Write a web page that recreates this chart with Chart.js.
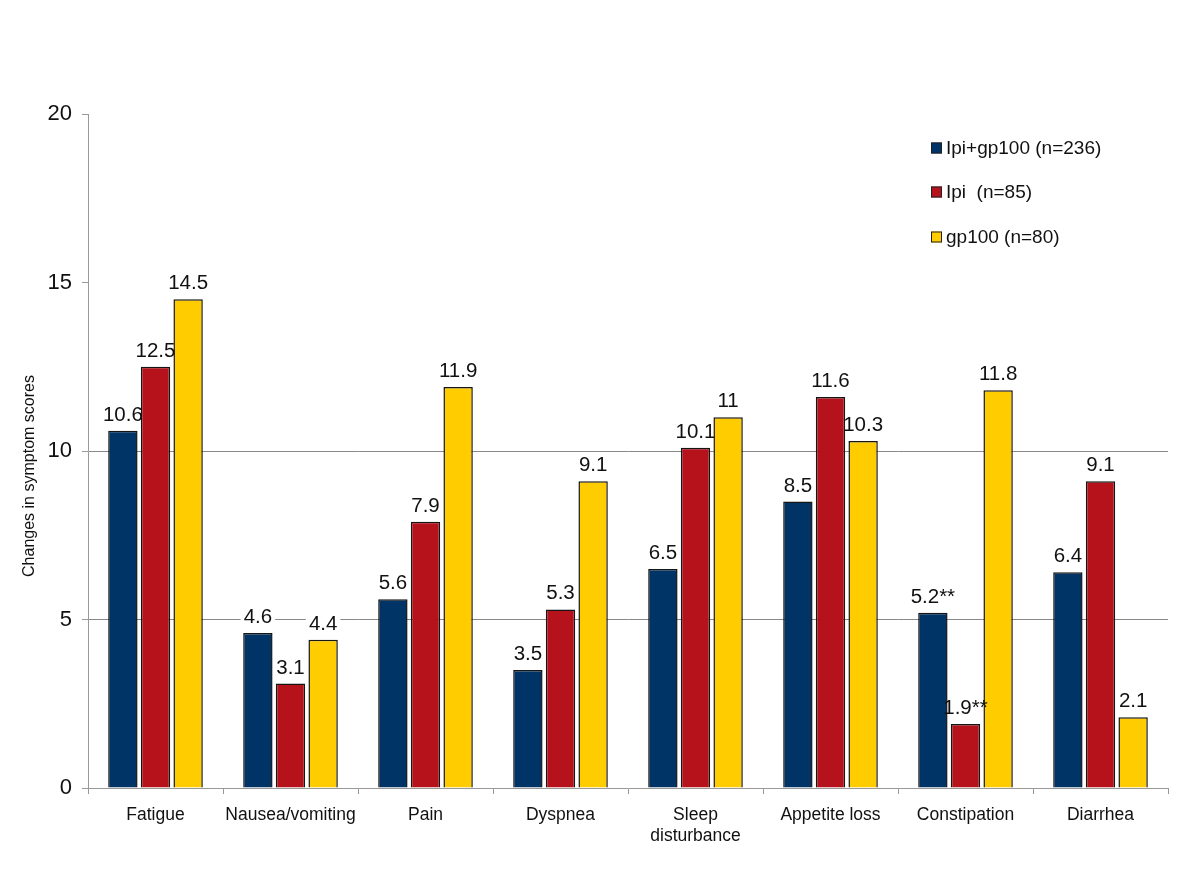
<!DOCTYPE html>
<html>
<head>
<meta charset="utf-8">
<script src="https://cdn.jsdelivr.net/npm/chart.js@4/dist/chart.umd.min.js"></script>
<style>
  html, body { margin: 0; padding: 0; background: #ffffff; }
  #wrap { width: 1200px; height: 871px; }
</style>
</head>
<body>
<div id="wrap"><canvas id="c" width="1200" height="871"></canvas></div>
<script>
const categories = ["Fatigue", "Nausea/vomiting", "Pain", "Dyspnea", ["Sleep", "disturbance"], "Appetite loss", "Constipation", "Diarrhea"];
const seriesNames = ["Ipi+gp100 (n=236)", "Ipi  (n=85)", "gp100 (n=80)"];
const ipiGp100Values = [10.6, 4.6, 5.6, 3.5, 6.5, 8.5, 5.2, 6.4];
const ipiValues = [12.5, 3.1, 7.9, 5.3, 10.1, 11.6, 1.9, 9.1];
const gp100Values = [14.5, 4.4, 11.9, 9.1, 11, 10.3, 11.8, 2.1];
const ipiGp100Notes = ["", "", "", "", "", "", "**", ""];
const ipiNotes = ["", "", "", "", "", "", "**", ""];
const gp100Notes = ["", "", "", "", "", "", "", ""];
const yTicks = [0, 5, 10, 15, 20];
const gridValues = [5, 10];
const yTitle = "Changes in symptom scores";

const FONT = "'Liberation Sans', Arial, sans-serif";
const seriesColors = ["#003366", "#B5121B", "#FFCC00"];
const notes = [ipiGp100Notes, ipiNotes, gp100Notes];
const LABEL_FONT = "20.5px " + FONT;
const LABEL_GAP = 10;

const labelPlugin = {
  id: 'valueLabels',
  beforeDatasetsDraw(chart) {
    const ctx = chart.ctx;
    ctx.save();
    ctx.font = LABEL_FONT;
    chart.data.datasets.forEach((ds, di) => {
      const meta = chart.getDatasetMeta(di);
      meta.data.forEach((bar, i) => {
        const txt = String(ds.data[i]) + notes[di][i];
        const w = ctx.measureText(txt).width;
        const base = bar.y - LABEL_GAP;
        ctx.fillStyle = '#ffffff';
        ctx.fillRect(bar.x - w / 2 - 3, base - 18, w + 6, 22);
      });
    });
    ctx.restore();
  },
  afterDatasetsDraw(chart) {
    const ctx = chart.ctx;
    ctx.save();
    ctx.font = LABEL_FONT;
    ctx.fillStyle = '#111111';
    ctx.textAlign = 'center';
    ctx.textBaseline = 'alphabetic';
    chart.data.datasets.forEach((ds, di) => {
      const meta = chart.getDatasetMeta(di);
      meta.data.forEach((bar, i) => {
        const txt = String(ds.data[i]) + notes[di][i];
        ctx.fillText(txt, bar.x, bar.y - LABEL_GAP);
      });
    });
    // legend
    const legendY = [148, 192, 237];
    ctx.font = "19px " + FONT;
    ctx.textAlign = 'left';
    ctx.textBaseline = 'middle';
    chart.data.datasets.forEach((ds, di) => {
      const y = legendY[di];
      ctx.fillStyle = ds.backgroundColor;
      ctx.fillRect(931, y - 5.5, 11, 11);
      ctx.strokeStyle = '#222222';
      ctx.lineWidth = 1;
      ctx.strokeRect(931.5, y - 5, 10, 10);
      ctx.fillStyle = '#111111';
      ctx.fillText(ds.label, 946, y + 1);
    });
    // y title
    ctx.save();
    ctx.translate(30, 476);
    ctx.rotate(-Math.PI / 2);
    ctx.textAlign = 'center';
    ctx.textBaseline = 'middle';
    ctx.font = "16px " + FONT;
    ctx.fillStyle = '#111111';
    ctx.fillText(yTitle, 0, 0);
    ctx.restore();
    ctx.restore();
  }
};

new Chart(document.getElementById('c'), {
  type: 'bar',
  data: {
    labels: categories,
    datasets: [
      { label: seriesNames[0], data: ipiGp100Values, backgroundColor: seriesColors[0] },
      { label: seriesNames[1], data: ipiValues, backgroundColor: seriesColors[1] },
      { label: seriesNames[2], data: gp100Values, backgroundColor: seriesColors[2] }
    ].map(d => Object.assign(d, { borderColor: '#151515', borderWidth: 1.5, categoryPercentage: 0.725, barPercentage: 0.9 }))
  },
  options: {
    responsive: false,
    animation: false,
    devicePixelRatio: 1,
    layout: { padding: { top: 114, right: 32, left: 0, bottom: 0 } },
    plugins: { legend: { display: false }, tooltip: { enabled: false } },
    scales: {
      x: {
        afterFit(scale) { scale.height = 83; },
        grid: { offset: true, drawOnChartArea: false, drawTicks: true, tickLength: 6, color: '#999999' },
        border: { display: true, color: '#999999', width: 1 },
        ticks: { font: { size: 17.5, family: FONT }, color: '#111111', padding: 11, maxRotation: 0, autoSkip: false }
      },
      y: {
        min: 0, max: 20,
        afterFit(scale) { scale.width = 88; },
        afterBuildTicks(scale) { scale.ticks = yTicks.map(v => ({ value: v })); },
        grid: {
          drawTicks: true, tickLength: 6, tickColor: '#999999',
          color: (c) => (c.tick && gridValues.includes(c.tick.value)) ? '#888888' : 'rgba(0,0,0,0)'
        },
        border: { display: true, color: '#999999', width: 1 },
        ticks: { font: { size: 22, family: FONT }, color: '#111111', padding: 10 }
      }
    }
  },
  plugins: [labelPlugin]
});
</script>
</body>
</html>
